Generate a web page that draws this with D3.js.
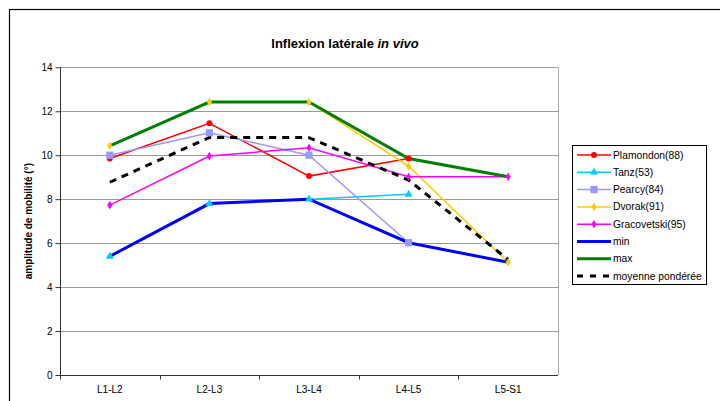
<!DOCTYPE html>
<html>
<head>
<meta charset="utf-8">
<script src="https://cdn.jsdelivr.net/npm/d3@7"></script>
<style>
body { margin: 0; background: #fff; }
text { font-family: "Liberation Sans", Arial, sans-serif; }
</style>
</head>
<body>
<script>
//data
var categories = ["L1-L2", "L2-L3", "L3-L4", "L4-L5", "L5-S1"];
var yTicks = [0, 2, 4, 6, 8, 10, 12, 14];

var plamondon = [9.85, 11.45, 9.05, 9.85, null];
var tanz = [5.4, 7.8, 8.0, 8.22, null];
var pearcy = [10.0, 11.02, 10.0, 6.02, null];
var dvorak = [10.42, 12.42, 12.42, 9.5, 5.13];
var gracovetski = [7.73, 9.96, 10.34, 9.02, 9.02];
var minVals = [5.4, 7.8, 8.0, 6.02, 5.13];
var maxVals = [10.42, 12.42, 12.42, 9.85, 9.02];
var moyenne = [8.77, 10.81, 10.8, 8.87, 5.25];

var seriesNames = ["Plamondon(88)", "Tanz(53)", "Pearcy(84)", "Dvorak(91)", "Gracovetski(95)", "min", "max", "moyenne pondérée"];

//series table built from the arrays above
var series = [
    {name: seriesNames[0], values: plamondon, color: "#FF0000", width: 1.5, marker: d3.symbolCircle, size: 28},
    {name: seriesNames[1], values: tanz, color: "#00CCFF", width: 1.5, marker: d3.symbolTriangle, size: 28},
    {name: seriesNames[2], values: pearcy, color: "#9999FF", width: 1.5, marker: d3.symbolSquare, size: 52},
    {name: seriesNames[3], values: dvorak, color: "#FFCC00", width: 1.5, marker: d3.symbolDiamond, size: 22},
    {name: seriesNames[4], values: gracovetski, color: "#FF00FF", width: 1.5, marker: d3.symbolDiamond, size: 22},
    {name: seriesNames[5], values: minVals, color: "#0000FF", width: 3, marker: null},
    {name: seriesNames[6], values: maxVals, color: "#008000", width: 3, marker: null},
    {name: seriesNames[7], values: moyenne, color: "#000000", width: 3, marker: null, dash: "7,6"}
];

//SVG dimension variables
var w = 720, h = 401;
var plotLeft = 60, plotRight = 558, plotTop = 67.3, plotBottom = 375;

var svg = d3.select("body")
    .append("svg")
    .attr("width", w)
    .attr("height", h);

//outer chart border
svg.append("rect")
    .attr("x", 9.5)
    .attr("y", 9.5)
    .attr("width", 720)
    .attr("height", 420)
    .style("fill", "none")
    .style("stroke", "#000")
    .style("stroke-width", 1.2);

var x = d3.scaleBand()
    .domain(categories)
    .range([plotLeft, plotRight]);

var y = d3.scaleLinear()
    .domain([0, 14])
    .range([plotBottom, plotTop]);

//horizontal gridlines
svg.append("g")
    .selectAll("line")
    .data(yTicks)
    .enter()
    .append("line")
    .attr("x1", plotLeft)
    .attr("x2", plotRight)
    .attr("y1", function(d){ return Math.round(y(d)) + 0.5; })
    .attr("y2", function(d){ return Math.round(y(d)) + 0.5; })
    .style("stroke", "#999")
    .style("stroke-width", 1);

//right border of the plot area
svg.append("line")
    .attr("x1", plotRight + 0.5)
    .attr("x2", plotRight + 0.5)
    .attr("y1", y(14))
    .attr("y2", plotBottom)
    .style("stroke", "#aaa");

//y axis
var yAxis = svg.append("g")
    .attr("transform", "translate(" + (plotLeft + 0.5) + ",0)")
    .call(d3.axisLeft(y).tickValues(yTicks).tickSize(5).tickPadding(3));
yAxis.selectAll("text").style("font-size", "10px").style("fill", "#000");
yAxis.selectAll("line, path").style("stroke", "#333");
yAxis.select(".domain").attr("d", "M0," + y(14) + "V" + plotBottom);

//x axis with ticks between categories
var xAxis = svg.append("g")
    .attr("transform", "translate(0," + (Math.round(plotBottom) + 0.5) + ")")
    .call(d3.axisBottom(x).tickSize(0).tickPadding(10));
xAxis.selectAll("text").style("font-size", "10px").style("fill", "#000");
xAxis.select(".domain").attr("d", "M" + plotLeft + ",0H" + plotRight).style("stroke", "#333");
xAxis.selectAll(".sep")
    .data(categories)
    .enter()
    .append("line")
    .attr("class", "sep")
    .attr("x1", function(d){ return Math.round(x(d)) + 0.5; })
    .attr("x2", function(d){ return Math.round(x(d)) + 0.5; })
    .attr("y1", 0)
    .attr("y2", 4)
    .style("stroke", "#333");

var line = d3.line()
    .defined(function(d){ return d != null; })
    .x(function(d, i){ return x(categories[i]) + x.bandwidth() / 2; })
    .y(function(d){ return y(d); });

//lines first, markers on top
svg.append("g")
    .selectAll("path")
    .data(series)
    .enter()
    .append("path")
    .attr("d", function(s){ return line(s.values); })
    .style("fill", "none")
    .style("stroke", function(s){ return s.color; })
    .style("stroke-width", function(s){ return s.width; })
    .style("stroke-dasharray", function(s){ return s.dash || null; });

series.forEach(function(s){
    if (!s.marker) return;
    svg.append("g")
        .selectAll("path")
        .data(s.values.map(function(v, i){ return {v: v, i: i}; }).filter(function(d){ return d.v != null; }))
        .enter()
        .append("path")
        .attr("d", d3.symbol().type(s.marker).size(s.size))
        .attr("transform", function(d){
            return "translate(" + (x(categories[d.i]) + x.bandwidth() / 2) + "," + y(d.v) + ")";
        })
        .style("fill", s.color);
});

//title
var title = svg.append("text")
    .attr("x", 345)
    .attr("y", 48)
    .attr("text-anchor", "middle")
    .style("font-size", "13px")
    .style("font-weight", "bold");
title.append("tspan").text("Inflexion latérale ");
title.append("tspan").style("font-style", "italic").text("in vivo");

//y axis title
svg.append("text")
    .attr("transform", "translate(32," + ((plotTop + plotBottom) / 2) + ") rotate(-90)")
    .attr("text-anchor", "middle")
    .style("font-size", "10px")
    .style("font-weight", "bold")
    .text("amplitude de mobilité (°)");

//legend
var legend = svg.append("g");
legend.append("rect")
    .attr("x", 572.5)
    .attr("y", 145.5)
    .attr("width", 134)
    .attr("height", 139)
    .style("fill", "#fff")
    .style("stroke", "#000");

var items = legend.selectAll(".item")
    .data(series)
    .enter()
    .append("g")
    .attr("class", "item")
    .attr("transform", function(d, i){ return "translate(0," + (155 + i * 17.3) + ")"; });

items.append("line")
    .attr("x1", 577)
    .attr("x2", 611)
    .style("stroke", function(s){ return s.color; })
    .style("stroke-width", function(s){ return s.width; })
    .style("stroke-dasharray", function(s){ return s.dash ? "6,7" : null; });

items.filter(function(s){ return s.marker; })
    .append("path")
    .attr("transform", "translate(594,0)")
    .attr("d", function(s){ return d3.symbol().type(s.marker).size(s.size)(); })
    .style("fill", function(s){ return s.color; });

items.append("text")
    .attr("x", 613)
    .attr("y", 3.5)
    .style("font-size", "10.3px")
    .text(function(s){ return s.name; });
</script>
</body>
</html>
